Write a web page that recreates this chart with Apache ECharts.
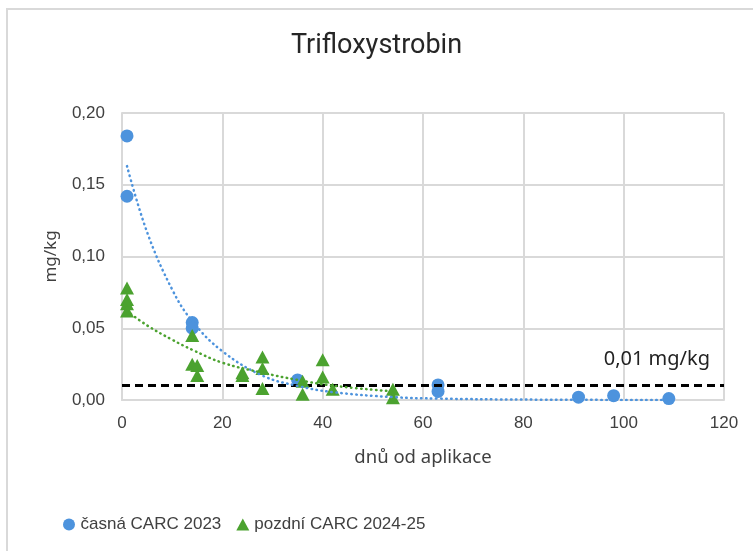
<!DOCTYPE html>
<html>
<head>
<meta charset="utf-8">
<script src="https://cdn.jsdelivr.net/npm/echarts@6/dist/echarts.min.js"></script>
<style>
html,body{margin:0;padding:0;background:#fff;}
#wrap{position:relative;width:753px;height:551px;overflow:hidden;}
#frame{position:absolute;left:6px;top:8px;width:800px;height:600px;border:2px solid #d9d9d9;box-sizing:border-box;}
#chart{position:absolute;left:0;top:0;width:753px;height:551px;}
</style>
</head>
<body>
<div id="wrap"><div id="frame"></div><div id="chart"></div></div>
<script>
// ---- data ----
const titleText = 'Trifloxystrobin';
const xTicks = [0, 20, 40, 60, 80, 100, 120];
const yTicks = [0, 0.05, 0.10, 0.15, 0.20];
const seriesNames = ['časná CARC 2023', 'pozdní CARC 2024-25'];

// časná CARC 2023 (blue circles): [days, mg/kg]
const earlyDays   = [1, 1, 14, 14, 35, 63, 63, 91, 98, 109];
const earlyValues = [0.184, 0.142, 0.054, 0.050, 0.014, 0.0105, 0.006, 0.002, 0.003, 0.001];

// pozdní CARC 2024-25 (green triangles)
const lateDays   = [1, 1, 1, 1, 14, 14, 15, 15, 24, 24, 28, 28, 28, 36, 36, 40, 40, 42, 54, 54];
const lateValues = [0.078, 0.070, 0.067, 0.062, 0.045, 0.025, 0.024, 0.017, 0.019, 0.017, 0.030, 0.022, 0.008, 0.013, 0.004, 0.028, 0.016, 0.0075, 0.0075, 0.0016];

// trendlines (dotted), points
const earlyTrendDays   = [1, 5, 10, 14, 20, 28, 35, 42, 54, 63, 80, 109];
const earlyTrendValues = [0.163, 0.117, 0.077, 0.055, 0.034, 0.017, 0.0098, 0.0055, 0.002, 0.001, 0.0003, 0.0];
const lateTrendDays   = [1, 5, 10, 14, 20, 28, 35, 42, 54];
const lateTrendValues = [0.062, 0.052, 0.042, 0.035, 0.026, 0.019, 0.014, 0.010, 0.006];

// limit line
const limitValue = [0.01];
const limitLabel = '0,01 mg/kg';

// ---- build ----
const zip = (xs, ys) => xs.map((x, i) => [x, ys[i]]);
const blue = '#4d93dd';
const green = '#4ba22f';
const grey = '#d9d9d9';
const txt = '#404040';

const chart = echarts.init(document.getElementById('chart'), null, {renderer: 'canvas'});
chart.setOption({
  backgroundColor: 'transparent',
  animation: false,
  title: {
    text: titleText,
    left: 'center',
    top: 28,
    textStyle: {fontFamily: 'Roboto', fontWeight: 'normal', fontSize: 27, color: '#262626'}
  },
  grid: {left: 122, right: 29, top: 113, bottom: 151},
  legend: {
    data: [
      {name: seriesNames[0], icon: 'circle'},
      {name: seriesNames[1], icon: 'triangle'}
    ],
    left: 58,
    top: 511,
    itemWidth: 13,
    itemHeight: 12,
    itemGap: 15,
    textStyle: {fontFamily: 'Liberation Sans', fontSize: 17, color: txt}
  },
  xAxis: {
    type: 'value',
    min: xTicks[0],
    max: xTicks[xTicks.length - 1],
    interval: xTicks[1] - xTicks[0],
    name: 'dnů od aplikace',
    nameLocation: 'middle',
    nameGap: 48,
    nameTextStyle: {fontFamily: 'Noto Sans', fontSize: 18.5, color: txt},
    axisLine: {show: true, lineStyle: {color: grey, width: 2}},
    axisTick: {show: false},
    axisLabel: {fontFamily: 'Liberation Sans', fontSize: 17, color: txt, margin: 15},
    splitLine: {show: true, lineStyle: {color: grey, width: 2}}
  },
  yAxis: {
    type: 'value',
    min: yTicks[0],
    max: yTicks[yTicks.length - 1],
    interval: yTicks[1] - yTicks[0],
    name: 'mg/kg',
    nameLocation: 'middle',
    nameGap: 62,
    nameTextStyle: {fontFamily: 'Noto Sans', fontSize: 17, color: txt},
    axisLine: {show: true, lineStyle: {color: grey, width: 2}},
    axisTick: {show: false},
    axisLabel: {
      fontFamily: 'Liberation Sans', fontSize: 17, color: txt, margin: 17,
      formatter: v => v.toFixed(2).replace('.', ',')
    },
    splitLine: {show: true, lineStyle: {color: grey, width: 2}}
  },
  series: [
    {
      name: 'limit',
      type: 'line',
      data: [],
      silent: true,
      z: 3,
      markLine: {
        silent: true,
        symbol: 'none',
        lineStyle: {color: '#000', width: 3, type: [8, 5]},
        label: {
          show: true,
          position: 'insideEndTop',
          formatter: limitLabel,
          fontFamily: 'Noto Sans',
          fontSize: 20,
          color: '#222',
          distance: [14, 16]
        },
        data: [{yAxis: limitValue[0]}]
      }
    },
    {
      name: seriesNames[0],
      type: 'scatter',
      symbol: 'circle',
      symbolSize: 13,
      itemStyle: {color: blue, opacity: 1},
      data: zip(earlyDays, earlyValues),
      z: 4
    },
    {
      name: seriesNames[1],
      type: 'scatter',
      symbol: 'triangle',
      symbolSize: [14, 13],
      itemStyle: {color: green, opacity: 1},
      data: zip(lateDays, lateValues),
      z: 5
    },
    {
      name: 'trend1',
      type: 'line',
      smooth: 0.4,
      showSymbol: false,
      silent: true,
      lineStyle: {color: blue, width: 2.5, type: [0.5, 4.5], cap: 'round'},
      data: zip(earlyTrendDays, earlyTrendValues),
      z: 6
    },
    {
      name: 'trend2',
      type: 'line',
      smooth: 0.4,
      showSymbol: false,
      silent: true,
      lineStyle: {color: green, width: 2.5, type: [0.5, 4.5], cap: 'round'},
      data: zip(lateTrendDays, lateTrendValues),
      z: 6
    }
  ]
});
</script>
</body>
</html>
